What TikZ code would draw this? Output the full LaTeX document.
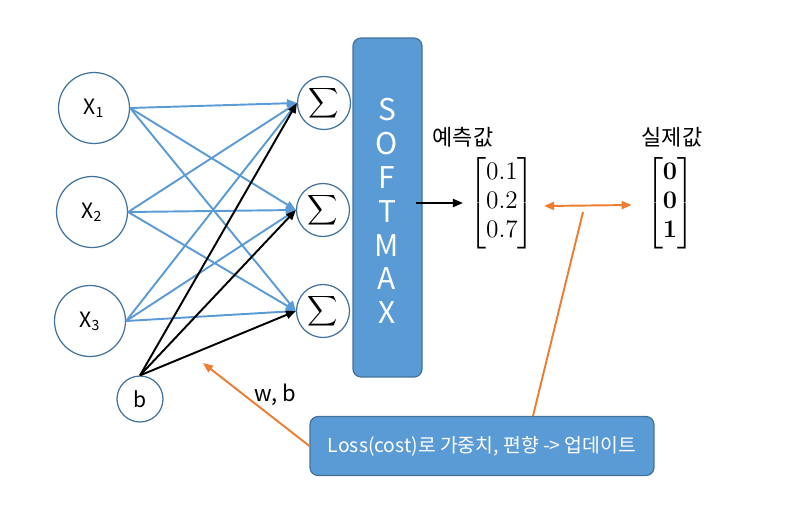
\documentclass[tikz,border=0pt]{standalone}
\usepackage{amsmath}
\usepackage[no-math]{fontspec}
\setmainfont{Noto Sans CJK KR}
\usetikzlibrary{arrows.meta}
\definecolor{lblue}{HTML}{5B9BD5}
\definecolor{dblue}{HTML}{41719C}
\definecolor{orng}{HTML}{ED7D31}
\tikzset{
  inp/.style={circle,draw=dblue,line width=0.7pt,minimum size=1.42cm,inner sep=0pt,font=\fontsize{12}{14}\selectfont},
  sumc/.style={circle,draw=dblue,line width=0.7pt,minimum size=1.06cm,inner sep=0pt,font=\fontsize{12}{14}\selectfont},
  bluearr/.style={draw=lblue,line width=1.1pt,-{Triangle[length=2mm,width=1.6mm]}},
  blackarr/.style={draw=black,line width=1.1pt,-{Triangle[length=2mm,width=1.6mm]}},
  orarr/.style={draw=orng,line width=1.1pt},
  bluebox/.style={rectangle,rounded corners=0.16cm,fill=lblue,draw=dblue,line width=0.7pt,text=white,inner sep=0pt},
  lbl/.style={font=\fontsize{12.5}{15}\selectfont,inner sep=0pt},
  mat/.style={inner sep=0pt,font=\fontsize{14}{16.5}\selectfont},
}
\begin{document}
\begin{tikzpicture}[x=0.02cm,y=-0.02cm]
\useasboundingbox (0,0) rectangle (800,528);
% input nodes
\node[inp] (x1) at (94,108) {X\textsubscript{1}};
\node[inp] (x2) at (92,212) {X\textsubscript{2}};
\node[inp] (x3) at (90,321) {X\textsubscript{3}};
\node[inp,minimum size=0.92cm] (b) at (140,399) {b};
% sum nodes
\node[sumc] (s1) at (324,103) {$\displaystyle\sum$};
\node[sumc] (s2) at (323,210) {$\displaystyle\sum$};
\node[sumc] (s3) at (323,311) {$\displaystyle\sum$};
% blue connectors
\foreach \i in {x1,x2,x3}{
  \foreach \j in {s1,s2,s3}{
    \draw[bluearr] (\i.east) -- (\j.west);
  }
}
% black connectors
\foreach \j in {s1,s2,s3}{
  \draw[blackarr] (b.north) -- (\j.west);
}
% softmax box
\node[bluebox,minimum width=1.38cm,minimum height=6.78cm] (sm) at (387.5,207.5) {};
\node[text=white,font=\fontsize{17}{19.3}\selectfont,align=center,inner sep=0pt] (smtext) at (387,211) {S\\O\\F\\T\\M\\A\\X};
% labels
\node[lbl] (pl) at (463,137) {예측값};
\node[lbl] (rl) at (672,137) {실제값};
% matrices
\node[mat] (p) at (502,203) {$\begin{bmatrix}0.1\\0.2\\0.7\end{bmatrix}$};
\node[mat] (r) at (670,203) {$\begin{bmatrix}\mathbf{0}\\\mathbf{0}\\\mathbf{1}\end{bmatrix}$};
% arrow softmax -> prediction
\draw[blackarr] ([xshift=-7*0.02cm]sm.east |- p.west) -- ([xshift=-6*0.02cm]p.west);
% orange double arrow
\draw[orarr,{Triangle[length=2mm,width=1.6mm]}-{Triangle[length=2mm,width=1.6mm]}] ([xshift=9*0.02cm,yshift=-3*0.02cm]p.east) -- ([xshift=-14*0.02cm,yshift=-2*0.02cm]r.west);
% loss box
\node[bluebox,minimum width=6.88cm,minimum height=1.18cm,font=\fontsize{11}{13}\selectfont] (loss) at (482,446) {Loss(cost)로 가중치, 편향 -> 업데이트};
\coordinate (c1) at (583,212);
\draw[orarr] (c1) -- ([xshift=51*0.02cm]loss.north);
\coordinate (c2) at (203,363);
\draw[orarr,-{Triangle[length=2mm,width=1.6mm]}] (loss.west) -- (c2);
\node[lbl] (wb) at (275,395) {w, b};
\end{tikzpicture}
\end{document}
